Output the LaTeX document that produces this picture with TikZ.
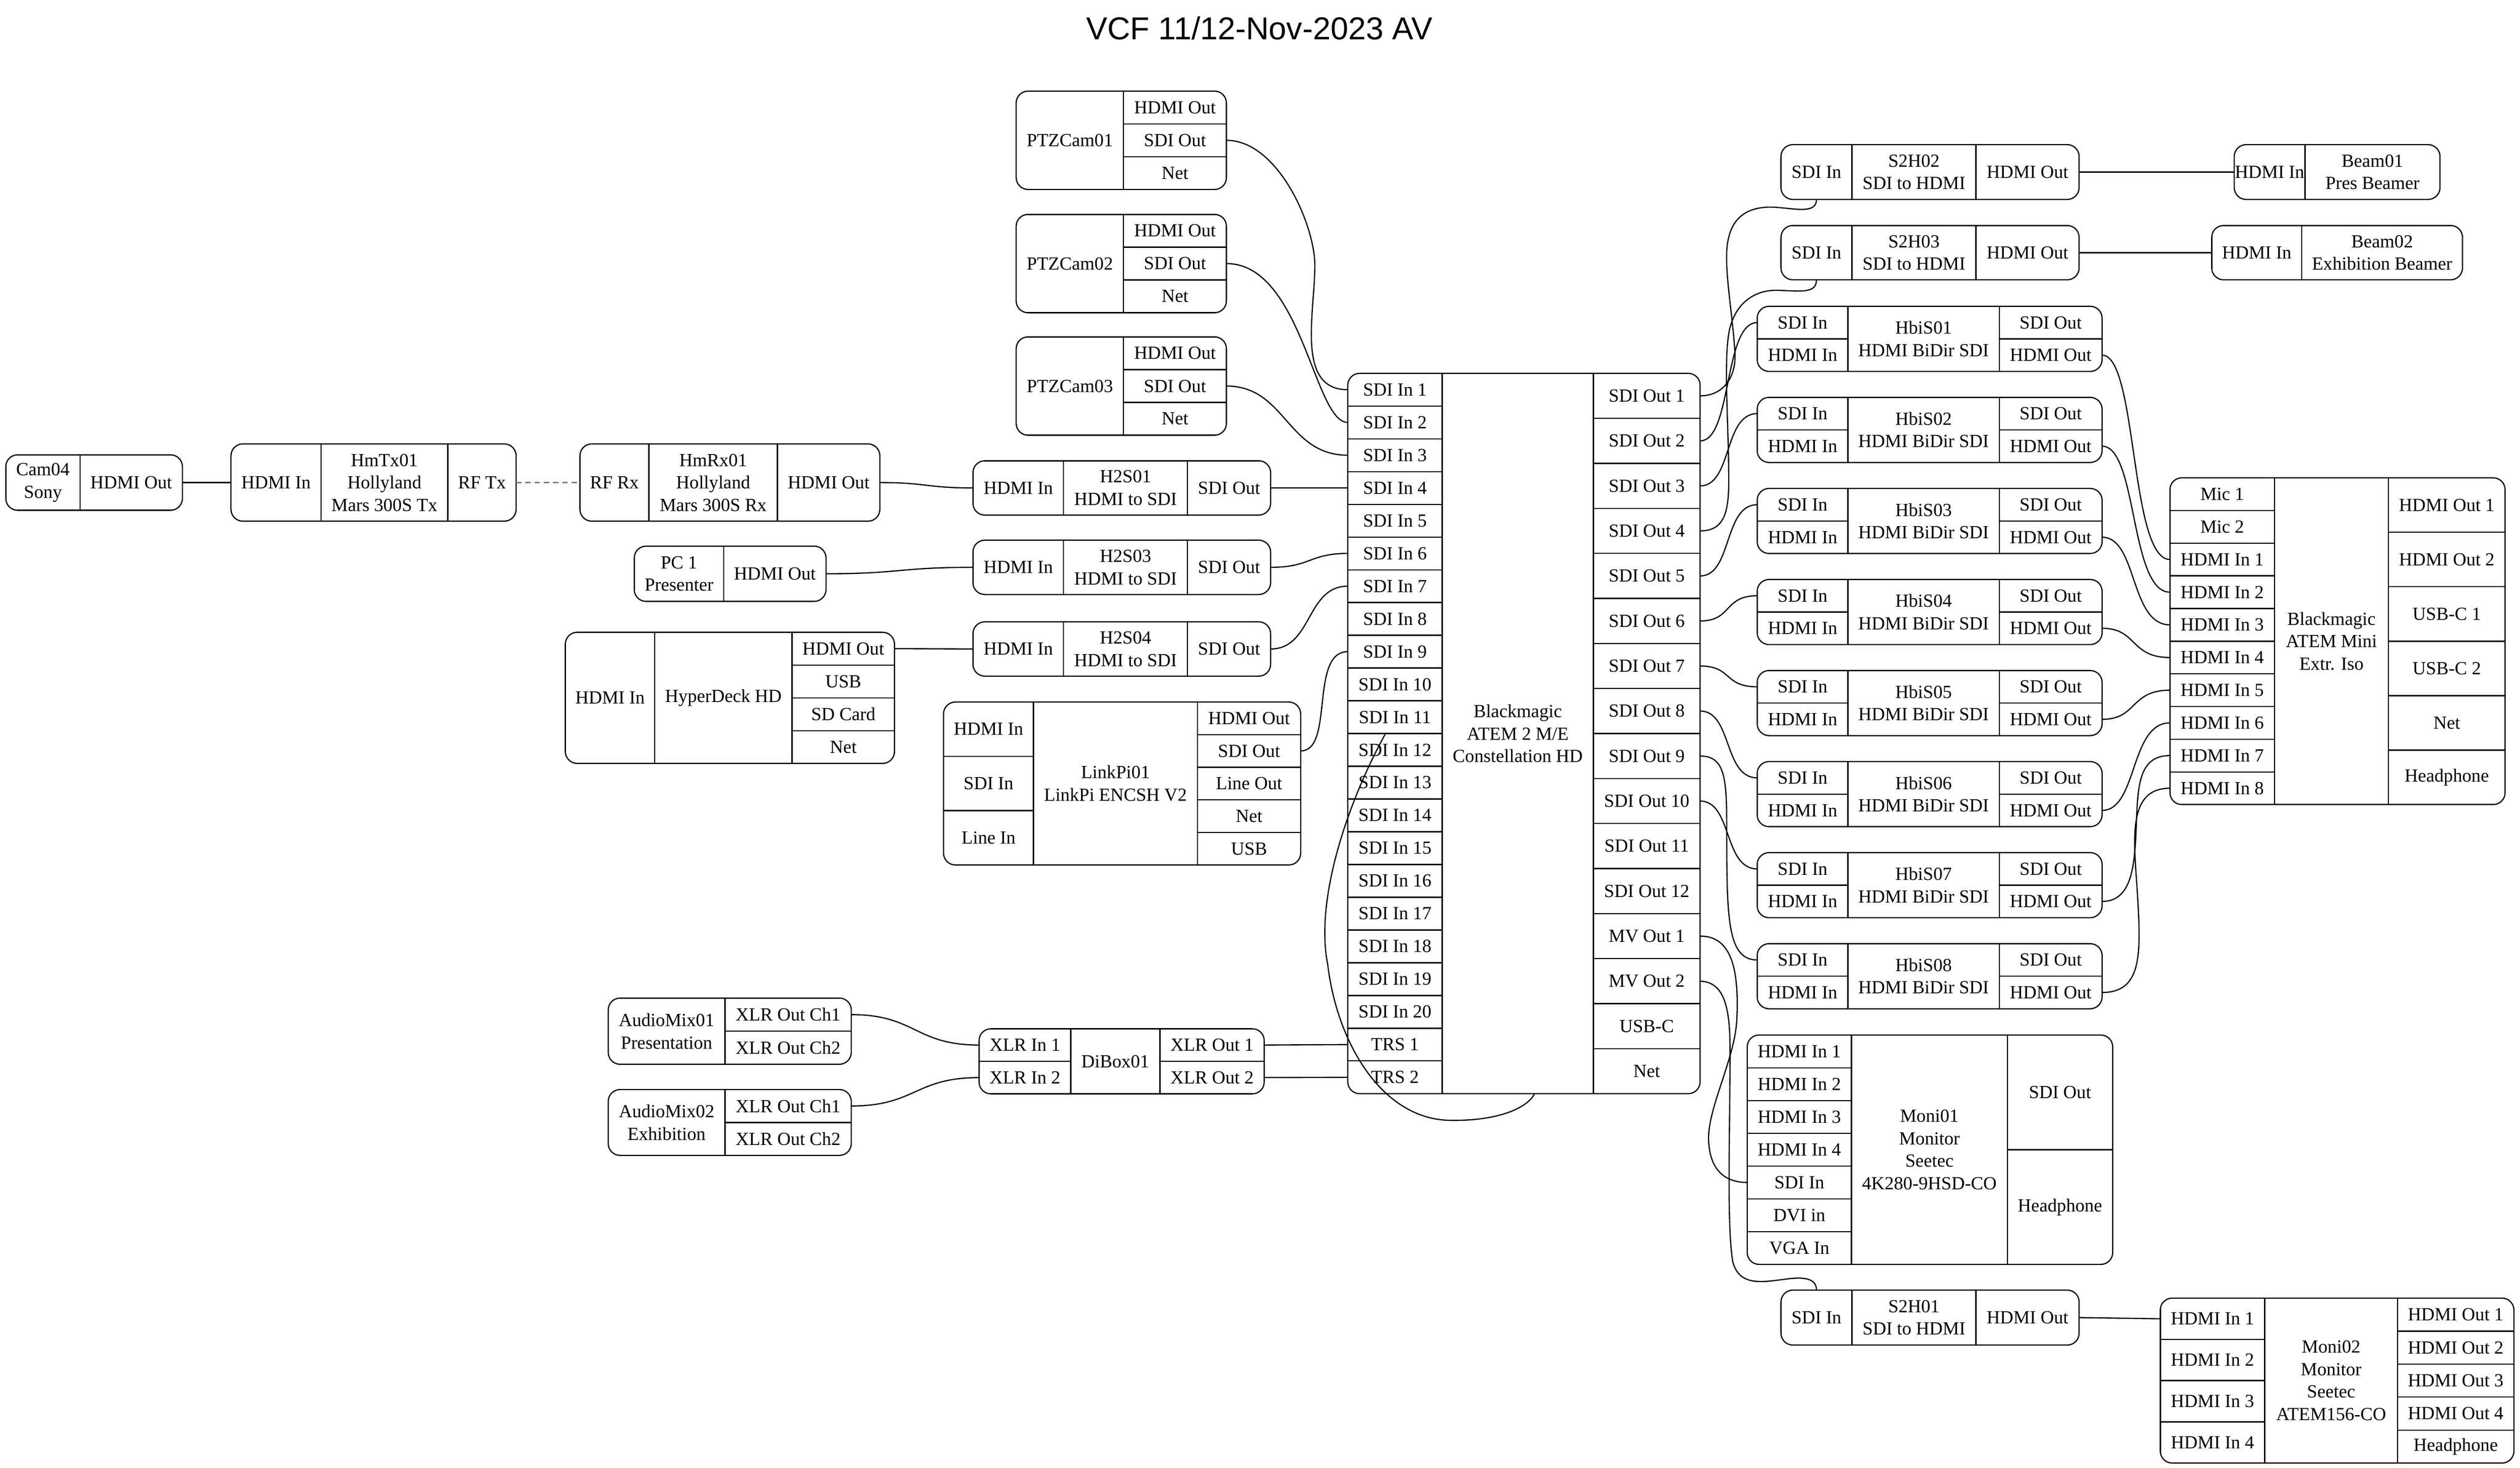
\documentclass[tikz,border=0pt]{standalone}
\usepackage{fontspec}
\setmainfont{Liberation Serif}
\newfontfamily\titlefont{Liberation Sans}
\usetikzlibrary{calc}
\def\pxu{1.2165pt}
\tikzset{
 cel/.style={draw, line width=0.9pt, inner sep=0pt, outer sep=0pt, align=center, font=\fontsize{14}{17}\selectfont},
 recbox/.style={draw, line width=0.9pt, rounded corners=9pt, inner sep=0pt, outer sep=0pt},
 conn/.style={draw, line width=0.9pt},
 rfconn/.style={draw, line width=0.9pt, gray, dash pattern=on 4pt off 3pt},
}
% cell: name, x1, y1, x2, y2, text
\newcommand\cel[6]{\node[cel, minimum width={((#4)-(#2))*\pxu}, minimum height={((#5)-(#3))*\pxu}] (#1) at ({((#2)+(#4))/2},{((#3)+(#5))/2}) {#6};}
% column of cells: prefix, x1, x2, ytop, row height, list
\newcommand\col[6]{\foreach \t [count=\i] in {#6} {\cel{#1\i}{#2}{(#4)+(\i-1)*(#5)}{#3}{(#4)+\i*(#5)}{\t}}}
% record: name, x1, y1, x2, y2, cells
\newcommand\rec[6]{\begin{scope}\clip[rounded corners=9pt] (#2,#3) rectangle (#4,#5); #6 \end{scope}%
 \node[recbox, minimum width={((#4)-(#2))*\pxu}, minimum height={((#5)-(#3))*\pxu}] (#1) at ({((#2)+(#4))/2},{((#3)+(#5))/2}) {};}
\begin{document}
\begin{tikzpicture}[x=\pxu, y=-\pxu]
\useasboundingbox (0,0) rectangle (1567.8,913.1);
\node[font=\titlefont\fontsize{24}{28}\selectfont] (title) at (783.5,17.7) {VCF 11/12-Nov-2023 AV};

% ---------------- left side ----------------
\rec{cam04}{3.6}{283}{113.5}{317.5}{\cel{cam04-name}{3.6}{283}{49.8}{317.5}{Cam04\\Sony}\cel{cam04-out}{49.8}{283}{113.5}{317.5}{HDMI Out}}
\rec{hmtx}{143.7}{276.2}{321.1}{324.3}{\cel{hmtx-in}{143.7}{276.2}{199.7}{324.3}{HDMI In}\cel{hmtx-name}{199.7}{276.2}{278.6}{324.3}{HmTx01\\Hollyland\\Mars 300S Tx}\cel{hmtx-rf}{278.6}{276.2}{321.1}{324.3}{RF Tx}}
\rec{hmrx}{360.8}{276.2}{547.4}{324.3}{\cel{hmrx-rf}{360.8}{276.2}{403.7}{324.3}{RF Rx}\cel{hmrx-name}{403.7}{276.2}{483.7}{324.3}{HmRx01\\Hollyland\\Mars 300S Rx}\cel{hmrx-out}{483.7}{276.2}{547.4}{324.3}{HDMI Out}}
\rec{pc1}{394.6}{339.8}{513.9}{374.2}{\cel{pc1-name}{394.6}{339.8}{450.3}{374.2}{PC 1\\Presenter}\cel{pc1-out}{450.3}{339.8}{513.9}{374.2}{HDMI Out}}
\rec{hyper}{351.7}{393.4}{556.5}{475}{\cel{hyper-in}{351.7}{393.4}{407.3}{475}{HDMI In}\cel{hyper-name}{407.3}{393.4}{492.8}{475}{HyperDeck HD}\col{hyper-r}{492.8}{556.5}{393.4}{20.4}{HDMI Out,USB,SD Card,Net}}

\rec{ptz1}{632.2}{56.7}{763}{117.9}{\cel{ptz1-name}{632.2}{56.7}{699}{117.9}{PTZCam01}\col{ptz1-r}{699}{763}{56.7}{20.4}{HDMI Out,SDI Out,Net}}
\rec{ptz2}{632.2}{133.4}{763}{194.6}{\cel{ptz2-name}{632.2}{133.4}{699}{194.6}{PTZCam02}\col{ptz2-r}{699}{763}{133.4}{20.4}{HDMI Out,SDI Out,Net}}
\rec{ptz3}{632.2}{209.6}{763}{270.8}{\cel{ptz3-name}{632.2}{209.6}{699}{270.8}{PTZCam03}\col{ptz3-r}{699}{763}{209.6}{20.4}{HDMI Out,SDI Out,Net}}

\rec{h2s1}{605.3}{286.7}{790.5}{320.5}{\cel{h2s1-in}{605.3}{286.7}{661.7}{320.5}{HDMI In}\cel{h2s1-name}{661.7}{286.7}{738.8}{320.5}{H2S01\\HDMI to SDI}\cel{h2s1-out}{738.8}{286.7}{790.5}{320.5}{SDI Out}}
\rec{h2s3}{605.3}{336.1}{790.5}{369.9}{\cel{h2s3-in}{605.3}{336.1}{661.7}{369.9}{HDMI In}\cel{h2s3-name}{661.7}{336.1}{738.8}{369.9}{H2S03\\HDMI to SDI}\cel{h2s3-out}{738.8}{336.1}{790.5}{369.9}{SDI Out}}
\rec{h2s4}{605.3}{386.9}{790.5}{420.7}{\cel{h2s4-in}{605.3}{386.9}{661.7}{420.7}{HDMI In}\cel{h2s4-name}{661.7}{386.9}{738.8}{420.7}{H2S04\\HDMI to SDI}\cel{h2s4-out}{738.8}{386.9}{790.5}{420.7}{SDI Out}}

\rec{linkpi}{587}{436.8}{809.2}{538.2}{\col{linkpi-l}{587}{643}{436.8}{33.8}{HDMI In,SDI In,Line In}\cel{linkpi-name}{643}{436.8}{745}{538.2}{LinkPi01\\LinkPi ENCSH V2}\col{linkpi-r}{745}{809.2}{436.8}{20.28}{HDMI Out,SDI Out,Line Out,Net,USB}}

\rec{amix1}{378.4}{621}{529.6}{662.2}{\cel{amix1-name}{378.4}{621}{451}{662.2}{AudioMix01\\Presentation}\col{amix1-r}{451}{529.6}{621}{20.6}{XLR Out Ch1,XLR Out Ch2}}
\rec{amix2}{378.4}{677.9}{529.6}{718.9}{\cel{amix2-name}{378.4}{677.9}{451}{718.9}{AudioMix02\\Exhibition}\col{amix2-r}{451}{529.6}{677.9}{20.5}{XLR Out Ch1,XLR Out Ch2}}
\rec{dibox}{609.1}{640.1}{786.5}{680.6}{\col{dibox-in}{609.1}{666.2}{640.1}{20.25}{XLR In 1,XLR In 2}\cel{dibox-name}{666.2}{640.1}{721.6}{680.6}{DiBox01}\col{dibox-out}{721.6}{786.5}{640.1}{20.25}{XLR Out 1,XLR Out 2}}

% ---------------- ATEM ----------------
\rec{atem}{838.5}{232.3}{1057.7}{680.5}{\col{atem-in}{838.5}{897.2}{232.3}{20.373}{SDI In 1,SDI In 2,SDI In 3,SDI In 4,SDI In 5,SDI In 6,SDI In 7,SDI In 8,SDI In 9,SDI In 10,SDI In 11,SDI In 12,SDI In 13,SDI In 14,SDI In 15,SDI In 16,SDI In 17,SDI In 18,SDI In 19,SDI In 20,TRS 1,TRS 2}\cel{atem-name}{897.2}{232.3}{991.3}{680.5}{Blackmagic\\ATEM 2 M/E\\Constellation HD}\col{atem-out}{991.3}{1057.7}{232.3}{28.0125}{SDI Out 1,SDI Out 2,SDI Out 3,SDI Out 4,SDI Out 5,SDI Out 6,SDI Out 7,SDI Out 8,SDI Out 9,SDI Out 10,SDI Out 11,SDI Out 12,MV Out 1,MV Out 2,USB-C,Net}}

% ---------------- right side ----------------
\rec{s2h2}{1108}{90}{1293.5}{124.1}{\cel{s2h2-in}{1108}{90}{1152.2}{124.1}{SDI In}\cel{s2h2-name}{1152.2}{90}{1229.3}{124.1}{S2H02\\SDI to HDMI}\cel{s2h2-out}{1229.3}{90}{1293.5}{124.1}{HDMI Out}}
\rec{s2h3}{1108}{140.3}{1293.5}{174.1}{\cel{s2h3-in}{1108}{140.3}{1152.2}{174.1}{SDI In}\cel{s2h3-name}{1152.2}{140.3}{1229.3}{174.1}{S2H03\\SDI to HDMI}\cel{s2h3-out}{1229.3}{140.3}{1293.5}{174.1}{HDMI Out}}
\rec{s2h1}{1108}{802.7}{1293.5}{836.9}{\cel{s2h1-in}{1108}{802.7}{1152.2}{836.9}{SDI In}\cel{s2h1-name}{1152.2}{802.7}{1229.3}{836.9}{S2H01\\SDI to HDMI}\cel{s2h1-out}{1229.3}{802.7}{1293.5}{836.9}{HDMI Out}}
\rec{beam1}{1390}{90}{1518}{124.1}{\cel{beam1-in}{1390}{90}{1434}{124.1}{HDMI In}\cel{beam1-name}{1434}{90}{1518}{124.1}{Beam01\\Pres Beamer}}
\rec{beam2}{1376}{140.3}{1532}{174.1}{\cel{beam2-in}{1376}{140.3}{1432}{174.1}{HDMI In}\cel{beam2-name}{1432}{140.3}{1532}{174.1}{Beam02\\Exhibition Beamer}}

\foreach \k in {1,...,8}{
 \pgfmathsetmacro\yt{190.6+(\k-1)*56.65}
 \rec{hbis\k}{1093.2}{\yt}{1307.8}{\yt+40.5}{\col{hbis\k-l}{1093.2}{1149.7}{\yt}{20.25}{SDI In,HDMI In}\cel{hbis\k-name}{1149.7}{\yt}{1243.8}{\yt+40.5}{HbiS0\k\\HDMI BiDir SDI}\col{hbis\k-r}{1243.8}{1307.8}{\yt}{20.25}{SDI Out,HDMI Out}}
}

\rec{mini}{1350}{297.3}{1558.5}{500.6}{\col{mini-l}{1350}{1415}{297.3}{20.33}{Mic 1,Mic 2,HDMI In 1,HDMI In 2,HDMI In 3,HDMI In 4,HDMI In 5,HDMI In 6,HDMI In 7,HDMI In 8}\cel{mini-name}{1415}{297.3}{1486}{500.6}{Blackmagic\\ATEM Mini\\Extr. Iso}\col{mini-r}{1486}{1558.5}{297.3}{33.883}{HDMI Out 1,HDMI Out 2,USB-C 1,USB-C 2,Net,Headphone}}

\rec{moni1}{1087}{644}{1314.4}{786.7}{\col{moni1-l}{1087}{1151.9}{644}{20.386}{HDMI In 1,HDMI In 2,HDMI In 3,HDMI In 4,SDI In,DVI in,VGA In}\cel{moni1-name}{1151.9}{644}{1248.8}{786.7}{Moni01\\Monitor\\Seetec\\4K280-9HSD-CO}\col{moni1-r}{1248.8}{1314.4}{644}{71.35}{SDI Out,Headphone}}

\rec{moni2}{1344}{807.7}{1564}{910.3}{\col{moni2-l}{1344}{1409}{807.7}{25.65}{HDMI In 1,HDMI In 2,HDMI In 3,HDMI In 4}\cel{moni2-name}{1409}{807.7}{1491.6}{910.3}{Moni02\\Monitor\\Seetec\\ATEM156-CO}\col{moni2-r}{1491.6}{1564}{807.7}{20.52}{HDMI Out 1,HDMI Out 2,HDMI Out 3,HDMI Out 4,Headphone}}

% ---------------- connectors ----------------
\draw[conn] (cam04-out.east) -- (hmtx-in.west);
\draw[rfconn] (hmtx-rf.east) -- (hmrx-rf.west);
\draw[conn] (hmrx-out.east) .. controls +(29,0) and +(-29,0) .. (h2s1-in.west);
\draw[conn] (h2s1-out.east) -- (atem-in4.west);
\draw[conn] (pc1-out.east) .. controls +(46,0) and +(-46,0) .. (h2s3-in.west);
\draw[conn] (hyper-r1.east) -- (h2s4-in.west);
\draw[conn] (h2s3-out.east) .. controls +(25,0) and +(-24,0) .. (atem-in6.west);
\draw[conn] (h2s4-out.east) .. controls +(26,0) and +(-26,0) .. (atem-in7.west);
\draw[conn] (linkpi-r2.east) .. controls +(21,0) and +(-24,0) .. (atem-in9.west);
\draw[conn] (ptz1-r2.east) .. controls (795,87.3) and (818,140) .. (818,165) .. controls (818,195) and (806,242.5) .. (atem-in1.west);
\draw[conn] (ptz2-r2.east) .. controls +(47,0) and +(-21,0) .. (atem-in2.west);
\draw[conn] (ptz3-r2.east) .. controls +(37,0) and +(-38,0) .. (atem-in3.west);
\draw[conn] (amix1-r1.east) .. controls +(40,0) and +(-40,0) .. (dibox-in1.west);
\draw[conn] (amix2-r1.east) .. controls +(40,0) and +(-40,0) .. (dibox-in2.west);
\draw[conn] (dibox-out1.east) -- (atem-in21.west);
\draw[conn] (dibox-out2.east) -- (atem-in22.west);

\draw[conn] (atem-out1.east) .. controls (1072,246.3) and (1080,235) .. (1079.4,220) .. controls (1078,195) and (1072,165) .. (1075,150) .. controls (1078,133) and (1090,128) .. (1105,129) .. controls (1118,130) and (1130,133) .. (s2h2-in.south);
\draw[conn] (atem-out4.east) .. controls (1072,330.3) and (1075.5,320) .. (1075.5,300) .. controls (1075.5,260) and (1072,225) .. (1076,205) .. controls (1080,188) and (1092,180.6) .. (1105,180.6) .. controls (1120,181) and (1130,183) .. (s2h3-in.south);
\foreach \o/\h in {2/1,3/2,5/3,6/4,7/5,8/6,10/7}
 \draw[conn] (atem-out\o.east) .. controls +(20,0) and +(-21,0) .. (hbis\h-l1.west);
\draw[conn] (atem-out9.east) .. controls (1076,470.3) and (1074,490) .. (1074.3,530) .. controls (1074.5,575) and (1076,597.3) .. (hbis8-l1.west);
\draw[conn] (atem-out13.east) .. controls (1078,582.3) and (1082,605) .. (1080.5,635) .. controls (1079,660) and (1062,690) .. (1063,710) .. controls (1064,730) and (1075,735.7) .. (moni1-l5.west);
\draw[conn] (atem-out14.east) .. controls (1072,611) and (1076,625) .. (1076.3,650) .. controls (1076.5,700) and (1074,760) .. (1078,785) .. controls (1082,800) and (1095,798) .. (1110,796) .. controls (1124,794) and (1130,796) .. (s2h1-in.north);

\coordinate (loopA) at ($(atem-in12.north west)!0.4!(atem-in12.north east)$);
\coordinate (loopB) at ($(atem.south west)!0.53!(atem.south east)$);
\draw[conn] (loopA) .. controls (838,500) and (818,560) .. (826,600) .. controls (832,650) and (860,695) .. (900,697) .. controls (930,698) and (950,690) .. (loopB);

\foreach \k [evaluate=\k as \m using int(\k+2)] in {1,...,6}
 \draw[conn] (hbis\k-r2.east) .. controls +(22,0) and +(-25,0) .. (mini-l\m.west);
\draw[conn] (hbis7-r2.east) .. controls (1326,560.8) and (1328,540) .. (1329,515) .. controls (1330,490) and (1330,470.1) .. (mini-l9.west);
\draw[conn] (hbis8-r2.east) .. controls (1332,617.5) and (1332,595) .. (1330,560) .. controls (1328,525) and (1322,490.5) .. (mini-l10.west);

\draw[conn] (s2h2-out.east) -- (beam1-in.west);
\draw[conn] (s2h3-out.east) -- (beam2-in.west);
\draw[conn] (s2h1-out.east) -- (moni2-l1.west);
\end{tikzpicture}
\end{document}
